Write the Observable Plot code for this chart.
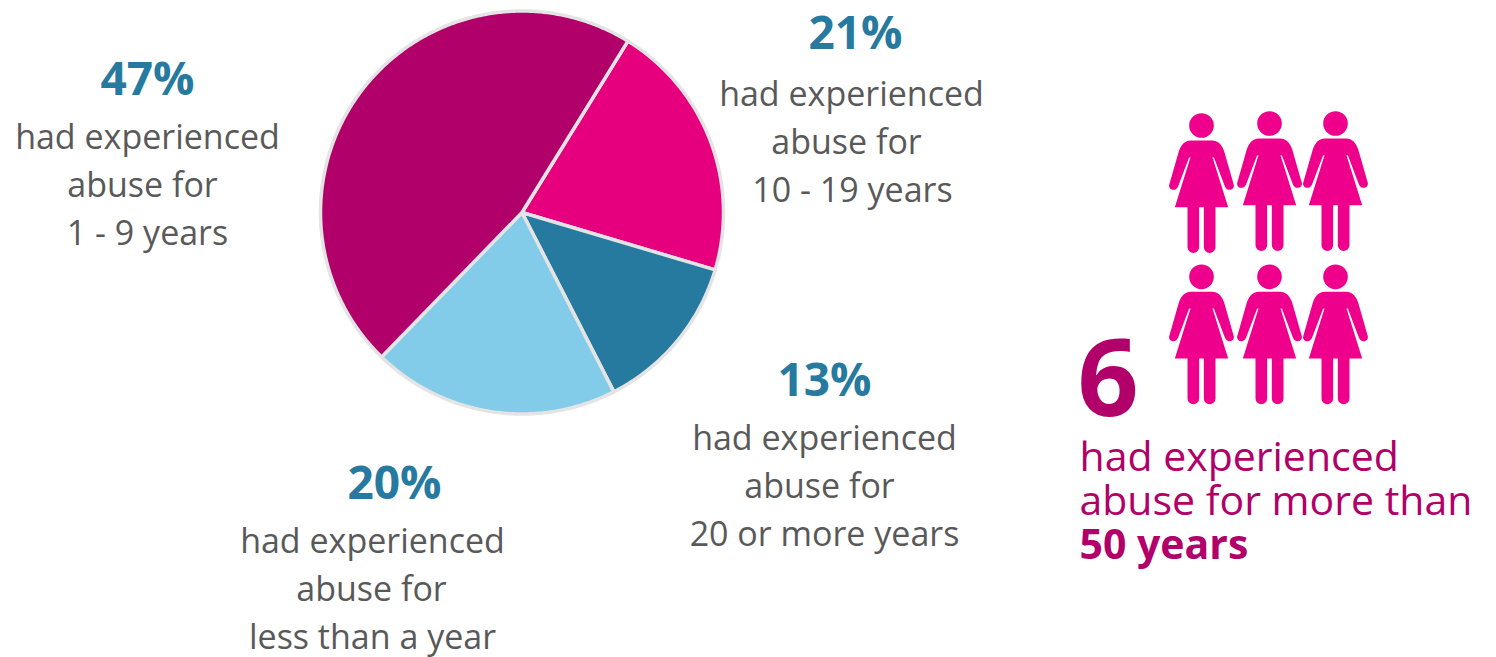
<!DOCTYPE html>
<html>
<head>
<meta charset="utf-8">
<script src="https://cdn.jsdelivr.net/npm/d3@7"></script>
<script src="https://cdn.jsdelivr.net/npm/@observablehq/plot@0.6"></script>
<style>
html,body{margin:0;padding:0;background:#fff;overflow:hidden}
svg{display:block}
</style>
</head>
<body>
<div id="chart"></div>
<script>
// Slices, clockwise from the first boundary
const categories = ["10 - 19 years", "20 or more years", "less than a year", "1 - 9 years"];
const shares = [21, 13, 20, 47];
const sliceColors = ["#e6007e", "#277a9f", "#82cbe9", "#b10069"];

// Labels (share + three lines of description)
const shareLabels = ["21%", "13%", "20%", "47%"];
const line1 = ["had experienced", "had experienced", "had experienced", "had experienced"];
const line2 = ["abuse for", "abuse for", "abuse for", "abuse for"];
const line3 = ["10 - 19 years", "20 or more years", "less than a year", "1 - 9 years"];

// Call-out
const calloutNumber = "6";
const calloutLines = ["had experienced", "abuse for more than", "50 years"];
const womenCount = 6;

// ---- layout ----
const W = 1496, H = 657;
const cx = 521.5, cy = 212, R = 201.5, startDeg = 31.7;
const total = d3.sum(shares);
const wedgePoints = [];
let acc = startDeg;
shares.forEach((v, i) => {
  const a0 = acc, a1 = acc + v / total * 360;
  acc = a1;
  const n = Math.ceil((a1 - a0) * 2);
  wedgePoints.push({c: categories[i], x: cx, y: cy});
  for (let k = 0; k <= n; k++) {
    const t = (a0 + (a1 - a0) * k / n) * Math.PI / 180;
    wedgePoints.push({c: categories[i], x: cx + R * Math.sin(t), y: cy - R * Math.cos(t)});
  }
  wedgePoints.push({c: categories[i], x: cx, y: cy});
});

const labelPos = [
  {x: 855, y: 48,  l: [851, 846, 852], b: [105, 153, 201]},
  {x: 824, y: 395, l: [824, 819, 824], b: [449, 497, 545]},
  {x: 394, y: 498, l: [372, 371, 372], b: [552, 600, 648]},
  {x: 147, y: 94,  l: [147, 142, 147], b: [148, 196, 244]}
];
const pctRows = shareLabels.map((t, i) => ({t, x: labelPos[i].x, y: labelPos[i].y}));
const lineRows = categories.flatMap((_, i) =>
  [line1[i], line2[i], line3[i]].map((t, j) => ({t, x: labelPos[i].l[j], y: labelPos[i].b[j]})));

const womanX = [1201, 1269, 1335];
const womanY = [[182.7, 180.7, 180.7], [334, 334, 334]];
const women = d3.range(womenCount).map(i => {
  const col = i % 3, row = Math.floor(i / 3);
  return {x: womanX[col], y: womanY[row][col]};
});

// Pictogram drawn about its centre; unit = 1/3 px at r = 70
const womanSymbol = {
  draw(ctx, size) {
    const s = Math.sqrt(size / Math.PI) / 70 / 3;
    const P = (x, y) => [x * s, y * s];
    const M = (x, y) => ctx.moveTo(...P(x, y));
    const L = (x, y) => ctx.lineTo(...P(x, y));
    const B = (a, b, c, d, e, f) => ctx.bezierCurveTo(...P(a, b), ...P(c, d), ...P(e, f));
    // head
    M(37, -173);
    ctx.arc(0, -173 * s, 37 * s, 0, 2 * Math.PI);
    ctx.closePath();
    // body
    M(-32, -128);
    L(32, -128);
    B(52, -128, 62, -112, 68, -96);
    L(96, 2);
    B(100, 12, 94, 20, 84, 20);
    B(78, 20, 73, 16, 70, 9);
    L(37, -78);
    L(33, -78);
    L(80, 72);
    L(42, 72);
    L(42, 192);
    ctx.arc(24.5 * s, 192 * s, 17.5 * s, 0, Math.PI);
    L(7, 72);
    L(-7, 72);
    L(-7, 192);
    ctx.arc(-24.5 * s, 192 * s, 17.5 * s, 0, Math.PI);
    L(-42, 72);
    L(-80, 72);
    L(-33, -78);
    L(-37, -78);
    L(-70, 9);
    B(-73, 16, -78, 20, -84, 20);
    B(-94, 20, -100, 12, -96, 2);
    L(-68, -96);
    B(-62, -112, -52, -128, -32, -128);
    ctx.closePath();
  }
};

const font = "'Open Sans', 'Noto Sans', sans-serif";
const grey = "#595959", blue = "#277a9f", plum = "#b10069", pink = "#ef008c";

const chart = Plot.plot({
  width: W, height: H,
  margin: 0,
  style: {fontFamily: font, background: "#fff"},
  x: {domain: [0, W], range: [0, W], axis: null},
  y: {domain: [0, H], range: [0, H], axis: null},
  color: {domain: categories, range: sliceColors},
  marks: [
    Plot.line(wedgePoints, {x: "x", y: "y", z: "c", fill: "c", stroke: "#e4e4e4", strokeWidth: 3.5, strokeLinejoin: "round", curve: "linear"}),
    Plot.text(pctRows, {x: "x", y: "y", text: "t", fill: blue, fontSize: 46, fontWeight: 700, textAnchor: "middle", lineAnchor: "bottom"}),
    Plot.text(lineRows, {x: "x", y: "y", text: "t", fill: grey, fontSize: 34, textAnchor: "middle", lineAnchor: "bottom"}),
    Plot.dot(women, {x: "x", y: "y", r: 70, symbol: womanSymbol, fill: pink, stroke: "none"}),
    Plot.text([calloutNumber], {x: [1077], y: [415], text: d => d, fill: plum, fontSize: 107, fontWeight: 700, textAnchor: "start", lineAnchor: "bottom"}),
    Plot.text(calloutLines.slice(0, 2), {x: [1079, 1079], y: [470, 514], text: d => d, fill: plum, fontSize: 41, textAnchor: "start", lineAnchor: "bottom"}),
    Plot.text(calloutLines.slice(2), {x: [1079], y: [558], text: d => d, fill: plum, fontSize: 41, fontWeight: 700, textAnchor: "start", lineAnchor: "bottom"})
  ]
});
document.getElementById("chart").append(chart);
</script>
</body>
</html>
